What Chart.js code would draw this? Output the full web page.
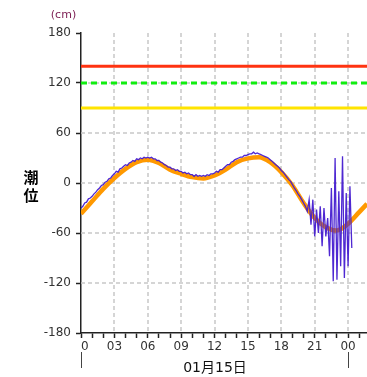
<!DOCTYPE html>
<html><head><meta charset="utf-8">
<script src="https://cdn.jsdelivr.net/npm/chart.js@4"></script>
<style>html,body{margin:0;padding:0;background:#fff;overflow:hidden}</style>
</head><body>
<canvas id="c" width="367" height="377"></canvas>
<script>
// ---- data ----
const astroHours = [0,1,2,3,4,5,6,7,8,9,10,11,12,13,14,15,16,17,18,19,20,21,22,23,24,25,25.7];
const astroTide  = [-37,-22,-7,6,17,25,28,24,16,11,7,5.5,9,16,25,29.5,31,25,13,-3,-24,-42,-53,-57,-49,-35,-25];
const obsStepMinutes = 10;
const observedTide = [
  -30,-28,-24,-23,-19,-18,   // 0h
  -16,-13,-11,-8,-6,-3,      // 1h
  -2,1,2,5,6,9,              // 2h
  11,14,13,17,18,20,         // 3h
  22,21,24,25,27,26,         // 4h
  29,28,30,29,31,30,         // 5h
  31,30,31,29,29,27,         // 6h
  27,25,24,22,21,19,         // 7h
  19,17,17,15,16,14,         // 8h
  14,12,13,11,12,10,         // 9h
  10,8,10,8,9,8,             // 10h
  9,8,10,9,11,11,            // 11h
  12,14,13,16,16,18,         // 12h
  20,22,22,25,26,28,         // 13h
  29,30,31,31,33,33,         // 14h
  34,35,35,37,35,36,         // 15h
  35,34,33,32,31,30,         // 16h
  28,26,24,22,20,18,         // 17h
  15,13,10,7,4,2,            // 18h
  -2,-6,-9,-13,-16,-20,      // 19h
  -24,-28,-34,-20,-50,-20,   // 20h
  -64,-32,-60,-28,-76,-30,   // 21h
  -64,-42,-88,-6,-118,30,    // 22h
  -116,-10,-100,32,-114,-12, // 23h
  -100,-4,-78                // 24h
];
const levelNames  = ['red','green','yellow'];
const levelValues = [140,120,90];
const xRange = [0, 25.7];
const yRange = [-180, 180];
const yStep = 60;
const xTickLabels = ['0','03','06','09','12','15','18','21','00'];
const dateLabel = '01月15日';
const unitLabel = '(cm)';
const axisTitleChars = ['潮','位'];

// ---- build ----
const obsPoints = observedTide.map((v,i)=>({x:i*obsStepMinutes/60, y:v}));
const astroPoints = astroHours.map((h,i)=>({x:h, y:astroTide[i]}));
const levelColors = {red:'#ff3311', green:'#11ee11', yellow:'#ffe400'};
const levelSets = levelNames.map((n,i)=>({
  data:[{x:xRange[0],y:levelValues[i]},{x:xRange[1],y:levelValues[i]}],
  borderColor:levelColors[n], borderWidth:3, pointRadius:0,
  borderDash: n==='green'?[6,4]:[], order:2
}));

// dashed grid drawn from the library's own scale ticks
const dashedGrid = {
  id:'dashedGrid',
  beforeDatasetsDraw(chart){
    const ctx = chart.ctx, a = chart.chartArea, xs = chart.scales.x, ys = chart.scales.y;
    ctx.save();
    ctx.strokeStyle = '#c8c8c8'; ctx.lineWidth = 1.5; ctx.setLineDash([4,3]);
    ctx.beginPath();
    xs.ticks.forEach(t=>{
      if (t.value%3===0 && t.value>0){
        const px = Math.round(xs.getPixelForValue(t.value));
        ctx.moveTo(px, a.top); ctx.lineTo(px, a.bottom);
      }
    });
    ys.ticks.forEach(t=>{
      if (Math.abs(t.value)<180){
        const py = Math.round(ys.getPixelForValue(t.value));
        ctx.moveTo(a.left, py); ctx.lineTo(a.right, py);
      }
    });
    ctx.stroke();
    ctx.restore();
  }
};

const extras = {
  id:'extras',
  afterDraw(chart){
    const ctx = chart.ctx, xs = chart.scales.x;
    ctx.save();
    ctx.fillStyle = '#7a1a50';
    ctx.font = '11px "DejaVu Sans"';
    ctx.textAlign='center'; ctx.textBaseline='middle';
    ctx.fillText(unitLabel, 63.5, 15);
    ctx.fillStyle = '#000';
    ctx.font = 'bold 15px "Noto Sans CJK JP"';
    ctx.fillText(axisTitleChars[0], 31, 177);
    ctx.fillText(axisTitleChars[1], 31, 195);
    const x0 = Math.round(xs.getPixelForValue(0))+0.5;
    const x1 = Math.round(xs.getPixelForValue(24))+0.5;
    ctx.strokeStyle = '#444'; ctx.lineWidth = 1;
    ctx.beginPath();
    ctx.moveTo(x0,352); ctx.lineTo(x0,368);
    ctx.moveTo(x1,352); ctx.lineTo(x1,368);
    ctx.stroke();
    ctx.fillStyle = '#111';
    ctx.font = '14px "DejaVu Sans","Noto Sans CJK JP"';
    ctx.fillText(dateLabel, (x0+x1)/2, 368);
    ctx.restore();
  }
};

new Chart(document.getElementById('c'), {
  type:'line',
  data:{datasets:[
    {data:obsPoints, borderColor:'rgba(68,28,208,0.95)', borderWidth:1.3, pointRadius:0, tension:0, order:0},
    {data:astroPoints, borderColor:'#ff9900', borderWidth:4.5, pointRadius:0, tension:0.4, cubicInterpolationMode:'monotone', order:1},
    ...levelSets
  ]},
  options:{
    responsive:false, animation:false, devicePixelRatio:1,
    layout:{padding:{top:33,right:0,left:0,bottom:0}},
    plugins:{legend:{display:false}, tooltip:{enabled:false}},
    scales:{
      x:{type:'linear', min:xRange[0], max:xRange[1],
        afterFit(s){s.height=44;},
        border:{color:'#222', width:1.5},
        grid:{drawOnChartArea:false, tickLength:5, tickColor:'#222', tickWidth:1.5},
        ticks:{stepSize:1, autoSkip:false, maxRotation:0, includeBounds:false, padding:2, color:'#333',
          font:{family:'DejaVu Sans', size:12},
          callback:(v)=> v%3===0 ? (v===0 ? '  '+xTickLabels[0] : xTickLabels[v/3]) : ''}
      },
      y:{min:yRange[0], max:yRange[1],
        afterFit(s){s.width=81;},
        border:{color:'#222', width:1.5},
        grid:{drawOnChartArea:false, tickLength:5, tickColor:'#222', tickWidth:1.5},
        ticks:{stepSize:yStep, padding:5, color:'#333', font:{family:'DejaVu Sans', size:12}}
      }
    }
  },
  plugins:[dashedGrid, extras]
});
</script>
</body></html>
